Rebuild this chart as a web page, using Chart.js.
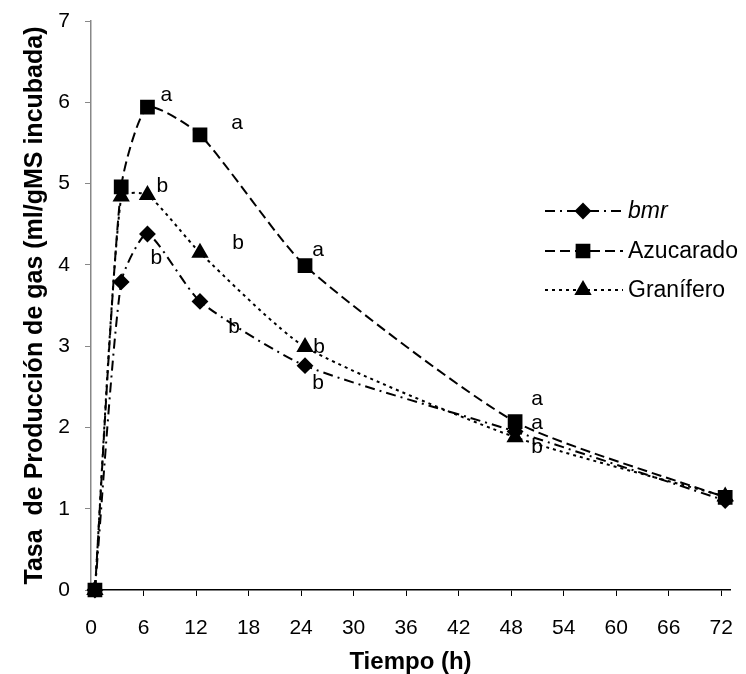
<!DOCTYPE html>
<html lang="es">
<head>
<meta charset="utf-8">
<title>Tasa de producción de gas</title>
<script src="https://cdn.jsdelivr.net/npm/chart.js@4/dist/chart.umd.min.js"></script>
<style>
  html, body { margin: 0; padding: 0; background: #fff; }
  #caja { width: 746px; height: 674px; }
</style>
</head>
<body>
<div id="caja"><canvas id="grafico"></canvas></div>
<script>
// Tiempos de incubación (h)
const tiempos = [0, 3, 6, 12, 24, 48, 72];

// Tasa de producción de gas (ml/gMS incubada)
const bmr = [0, 3.79, 4.38, 3.55, 2.76, 1.95, 1.10];
const azucarado = [0, 4.96, 5.94, 5.60, 3.99, 2.07, 1.14];
const granifero = [0, 4.84, 4.86, 4.15, 2.99, 1.88, 1.15];

// Letras de significancia de cada punto
const letrasBmr = ['', '', 'b', 'b', 'b', 'a', ''];
const letrasAzucarado = ['', '', 'a', 'a', 'a', 'a', ''];
const letrasGranifero = ['', '', 'b', 'b', 'b', 'b', ''];

// Marcas de los ejes
const marcasX = [0, 6, 12, 18, 24, 30, 36, 42, 48, 54, 60, 66, 72];
const marcasY = [0, 1, 2, 3, 4, 5, 6, 7];

const FUENTE = '"Liberation Sans", Arial, sans-serif';

function puntos(valores) {
    return tiempos.map((t, i) => ({ x: t, y: valores[i] }));
}

// posición de cada letra respecto a su punto (px)
const desplazamientos = [
    [null, null, [9, 24], [34, 26], [13, 18], [22, -8], null],
    [null, null, [19, -12], [37, -12], [13, -15], [22, -23], null],
    [null, null, [15, -9], [38, -9], [14, 0], [22, 10], null]
];
const letras = [letrasBmr, letrasAzucarado, letrasGranifero];

// dibuja las letras a / b junto a los puntos
const pluginLetras = {
    id: 'letras',
    afterDatasetsDraw(chart) {
        const ctx = chart.ctx;
        ctx.save();
        ctx.fillStyle = '#000';
        ctx.font = '21px ' + FUENTE;
        ctx.textAlign = 'center';
        ctx.textBaseline = 'middle';
        letras.forEach((serie, d) => {
            const meta = chart.getDatasetMeta(d);
            serie.forEach((txt, i) => {
                if (!txt) return;
                const p = meta.data[i];
                const off = desplazamientos[d][i];
                ctx.fillText(txt, p.x + off[0], p.y + off[1]);
            });
        });
        ctx.restore();
    }
};

// leyenda dentro del área del gráfico
const pluginLeyenda = {
    id: 'leyenda',
    afterDraw(chart) {
        const ctx = chart.ctx;
        const filas = [211, 251, 290];
        chart.data.datasets.forEach((ds, i) => {
            const y = filas[i];
            ctx.save();
            ctx.strokeStyle = '#000';
            ctx.lineWidth = ds.borderWidth;
            ctx.setLineDash(ds.borderDash);
            ctx.beginPath();
            ctx.moveTo(545, y);
            ctx.lineTo(623, y);
            ctx.stroke();
            ctx.setLineDash([]);
            ctx.fillStyle = '#000';
            Chart.helpers.drawPoint(ctx, {
                pointStyle: ds.pointStyle,
                radius: ds.pointRadius,
                borderWidth: 1
            }, 583, y);
            ctx.font = (i === 0 ? 'italic ' : '') + '23px ' + FUENTE;
            ctx.textBaseline = 'middle';
            ctx.textAlign = 'left';
            ctx.fillText(ds.label, 628, y + 1);
            ctx.restore();
        });
    }
};

const comun = {
    showLine: true,
    fill: false,
    borderColor: '#000',
    backgroundColor: '#000',
    pointBackgroundColor: '#000',
    pointBorderColor: '#000',
    borderWidth: 2,
    tension: 0.2,
    clip: false,
    xAxisID: 'xd'
};

new Chart(document.getElementById('grafico'), {
    type: 'scatter',
    data: {
        datasets: [
            Object.assign({}, comun, {
                label: 'bmr',
                data: puntos(bmr),
                borderDash: [10, 5, 2, 5],
                pointStyle: 'rectRot',
                pointRadius: 7,
                order: 1
            }),
            Object.assign({}, comun, {
                label: 'Azucarado',
                data: puntos(azucarado),
                borderDash: [10, 5],
                pointStyle: 'rect',
                pointRadius: 9,
                order: 0
            }),
            Object.assign({}, comun, {
                label: 'Granífero',
                data: puntos(granifero),
                borderDash: [3, 4],
                pointStyle: 'triangle',
                pointRadius: 8,
                order: 2
            })
        ]
    },
    options: {
        responsive: true,
        maintainAspectRatio: false,
        animation: false,
        layout: { padding: { top: 21, right: 16, left: 0, bottom: 0 } },
        plugins: {
            legend: { display: false },
            tooltip: { enabled: false }
        },
        scales: {
            x: {
                type: 'linear',
                min: 0,
                max: 73,
                afterBuildTicks: s => { s.ticks = marcasX.map(v => ({ value: v })); },
                afterFit: s => { s.height = 84; s.paddingLeft = 0; s.paddingRight = 0; },
                border: { color: '#000', width: 1.5 },
                grid: { drawOnChartArea: false, color: '#000', tickLength: 6 },
                ticks: {
                    color: '#000',
                    font: { family: FUENTE, size: 21 },
                    padding: 20,
                    maxRotation: 0
                },
                title: {
                    display: true,
                    text: 'Tiempo (h)',
                    color: '#000',
                    font: { family: FUENTE, size: 24, weight: 'bold', lineHeight: 1.0 },
                    padding: { top: 0, bottom: 0 }
                }
            },
            xd: {
                type: 'linear',
                display: false,
                min: -0.45,
                max: 72.55
            },
            y: {
                min: 0,
                max: 7,
                afterBuildTicks: s => { s.ticks = marcasY.map(v => ({ value: v })); },
                afterFit: s => { s.width = 91; s.paddingTop = 0; s.paddingBottom = 0; },
                border: { color: '#888', width: 1.5 },
                grid: { drawOnChartArea: false, color: '#888', tickLength: 6 },
                ticks: {
                    color: '#000',
                    font: { family: FUENTE, size: 21 },
                    padding: 15
                },
                title: {
                    display: true,
                    text: 'Tasa  de Producción de gas (ml/gMS incubada)',
                    color: '#000',
                    font: { family: FUENTE, size: 25, weight: 'bold', lineHeight: 1.1 },
                    padding: { top: 21, bottom: 0 }
                }
            }
        }
    },
    plugins: [pluginLetras, pluginLeyenda]
});
</script>
</body>
</html>
